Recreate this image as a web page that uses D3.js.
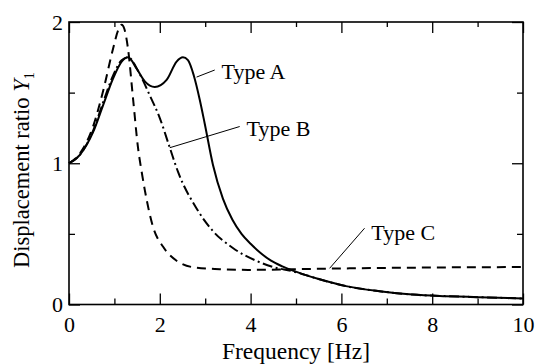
<!DOCTYPE html>
<html>
<head>
<meta charset="utf-8">
<script src="https://cdn.jsdelivr.net/npm/d3@7"></script>
<style>
  body { margin: 0; background: #fff; }
  text { font-family: "Liberation Serif", "Times New Roman", serif; fill: #000; }
</style>
</head>
<body>
<div id="container"></div>
<script>
// frequency [Hz], displacement ratio
let freqA = [0, 0.24, 0.53, 0.75, 0.97, 1.16, 1.30, 1.49, 1.67, 1.89, 2.15, 2.37, 2.51, 2.62, 2.75, 2.88, 2.99, 3.17, 3.39, 3.6, 3.8, 4.0, 4.2, 4.45, 4.7, 4.93, 5.2, 5.5, 6.1, 6.84, 7.57, 8.30, 9.03, 10];
let typeA = [1.0, 1.06, 1.22, 1.41, 1.60, 1.72, 1.75, 1.67, 1.58, 1.54, 1.59, 1.72, 1.75, 1.73, 1.62, 1.45, 1.28, 0.99, 0.75, 0.60, 0.50, 0.43, 0.37, 0.31, 0.27, 0.24, 0.21, 0.18, 0.13, 0.094, 0.07, 0.059, 0.052, 0.042];

let freqB = [0, 0.24, 0.53, 0.75, 0.97, 1.16, 1.30, 1.56, 1.78, 2.0, 2.22, 2.40, 2.81, 3.17, 3.61, 4.12, 4.5, 4.93, 5.2, 5.5, 6.1, 6.84, 7.57, 8.30, 9.03, 10];
let typeB = [1.0, 1.06, 1.23, 1.43, 1.62, 1.73, 1.75, 1.63, 1.48, 1.32, 1.11, 0.94, 0.68, 0.52, 0.40, 0.31, 0.265, 0.235, 0.21, 0.18, 0.13, 0.094, 0.07, 0.059, 0.052, 0.042];

let freqC = [0, 0.24, 0.53, 0.75, 0.97, 1.08, 1.16, 1.22, 1.30, 1.41, 1.52, 1.60, 1.67, 1.85, 2.07, 2.37, 2.81, 3.32, 4.0, 5.0, 6.0, 8.0, 10];
let typeC = [1.0, 1.07, 1.26, 1.51, 1.81, 1.94, 1.98, 1.95, 1.81, 1.46, 1.11, 0.94, 0.81, 0.55, 0.41, 0.31, 0.26, 0.25, 0.245, 0.25, 0.255, 0.262, 0.265];

let xMajor = [0, 2, 4, 6, 8, 10];
let xMinor = [1, 3, 5, 7, 9];
let yMajor = [0, 1, 2];
let yMinor = [0.5, 1.5];

// labels with leader lines (data units)
let labels = [
  {name: "Type A", tx: 3.36, ty: 1.60, x1: 2.81, y1: 1.61, x2: 3.21, y2: 1.66},
  {name: "Type B", tx: 3.91, ty: 1.19, x1: 2.22, y1: 1.11, x2: 3.76, y2: 1.26},
  {name: "Type C", tx: 6.66, ty: 0.46, x1: 5.74, y1: 0.256, x2: 6.51, y2: 0.54}
];

let w = 537;
let h = 364;
let m = {left: 69, right: 14, top: 22, bottom: 59.5};

let svg = d3.select("#container")
  .append("svg")
    .attr("width", w)
    .attr("height", h);

let x = d3.scaleLinear().domain([0, 10]).range([m.left, w - m.right]);
let y = d3.scaleLinear().domain([0, 2]).range([h - m.bottom, m.top]);

let line = d3.line()
  .x(d => x(d[0]))
  .y(d => y(d[1]))
  .curve(d3.curveMonotoneX);

let series = [
  {f: freqC, v: typeC, dash: "9,6"},
  {f: freqB, v: typeB, dash: "10,3.5,2,3.5"},
  {f: freqA, v: typeA, dash: null}
];

series.forEach(s => {
  svg.append("path")
    .datum(d3.zip(s.f, s.v))
    .attr("d", line)
    .attr("fill", "none")
    .attr("stroke", "#000")
    .attr("stroke-width", 2)
    .attr("stroke-dasharray", s.dash);
});

// axes, ticks pointing inward
function styleAxis(g) {
  g.select(".domain").remove();
  g.selectAll("line").attr("stroke", "#000").attr("stroke-width", 1.3);
  g.selectAll("text").style("font-size", "22px").style("font-family", "Liberation Serif");
}

svg.append("g").attr("transform", "translate(0," + y(0) + ")")
  .call(d3.axisBottom(x).tickValues(xMajor).tickSize(-11).tickPadding(12).tickFormat(d3.format("d")))
  .call(styleAxis);
svg.append("g").attr("transform", "translate(0," + y(0) + ")")
  .call(d3.axisBottom(x).tickValues(xMinor).tickSize(-6).tickFormat(""))
  .call(styleAxis);
svg.append("g").attr("transform", "translate(0," + y(2) + ")")
  .call(d3.axisTop(x).tickValues(xMajor).tickSize(-11).tickFormat(""))
  .call(styleAxis);
svg.append("g").attr("transform", "translate(0," + y(2) + ")")
  .call(d3.axisTop(x).tickValues(xMinor).tickSize(-5).tickFormat(""))
  .call(styleAxis);

svg.append("g").attr("transform", "translate(" + x(0) + ",0)")
  .call(d3.axisLeft(y).tickValues(yMajor).tickSize(-11).tickPadding(6).tickFormat(d3.format("d")))
  .call(styleAxis);
svg.append("g").attr("transform", "translate(" + x(0) + ",0)")
  .call(d3.axisLeft(y).tickValues(yMinor).tickSize(-6).tickFormat(""))
  .call(styleAxis);
svg.append("g").attr("transform", "translate(" + x(10) + ",0)")
  .call(d3.axisRight(y).tickValues(yMajor).tickSize(-11).tickFormat(""))
  .call(styleAxis);
svg.append("g").attr("transform", "translate(" + x(10) + ",0)")
  .call(d3.axisRight(y).tickValues(yMinor).tickSize(-6).tickFormat(""))
  .call(styleAxis);

// frame
svg.append("rect")
  .attr("x", x(0)).attr("y", y(2))
  .attr("width", x(10) - x(0)).attr("height", y(0) - y(2))
  .attr("fill", "none").attr("stroke", "#000").attr("stroke-width", 1.6);

// leader lines and labels
labels.forEach(l => {
  svg.append("line")
    .attr("x1", x(l.x1)).attr("y1", y(l.y1))
    .attr("x2", x(l.x2)).attr("y2", y(l.y2))
    .attr("stroke", "#000").attr("stroke-width", 1);
  svg.append("text")
    .attr("x", x(l.tx)).attr("y", y(l.ty))
    .style("font-size", "22px")
    .text(l.name);
});

// axis titles
svg.append("text")
  .attr("x", (x(0) + x(10)) / 2).attr("y", 359)
  .attr("text-anchor", "middle")
  .style("font-size", "23.5px")
  .text("Frequency [Hz]");

let yt = svg.append("text")
  .attr("transform", "translate(29,268) rotate(-90)")
  .attr("text-anchor", "start")
  .style("font-size", "22.5px");
yt.append("tspan").text("Displacement ratio ");
yt.append("tspan").style("font-style", "italic").text("Y");
yt.append("tspan").attr("dy", 5).style("font-size", "14px").text("1");
</script>
</body>
</html>
